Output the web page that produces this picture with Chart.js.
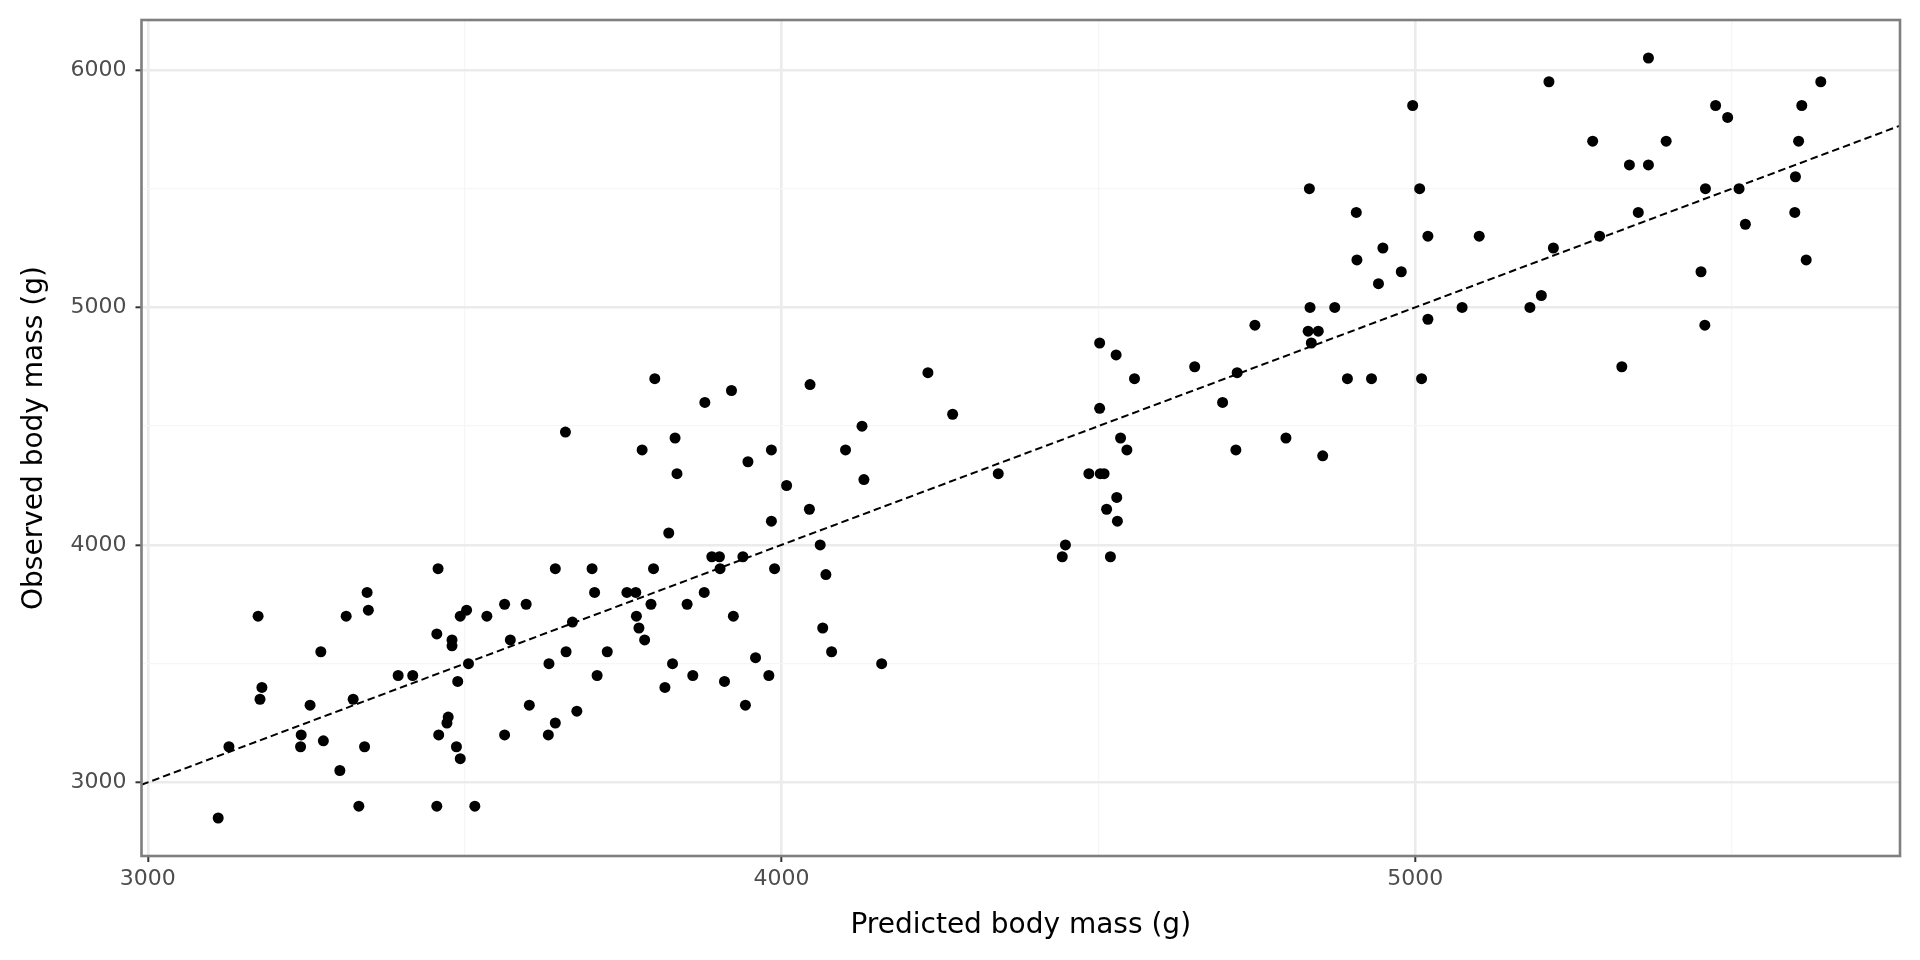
<!DOCTYPE html>
<html>
<head>
<meta charset="utf-8">
<title>Predicted vs observed body mass</title>
<script src="https://cdn.jsdelivr.net/npm/chart.js@4.4.1/dist/chart.umd.min.js"></script>
<style>
  html, body { margin: 0; padding: 0; background: #ffffff; }
  #wrap { width: 1920px; height: 960px; position: relative; }
</style>
</head>
<body>
<div id="wrap"><canvas id="massChart"></canvas></div>
<script>
// Predicted body mass (g) for each penguin
const predicted = [
    3458, 3346, 3348, 3174, 3313, 3493, 3503, 3456, 3480, 3480, 3273, 3506, 3395, 3418, 3489, 3180, 3177,
    3256, 3324, 3474, 3472, 3242, 3459, 3277, 3128, 3241, 3342, 3487, 3493, 3303, 3333, 3456, 3516, 3111,
    3535, 3563, 3597, 3643, 3701, 3798, 3705, 3756, 3770, 3794, 3771, 3775, 3784, 3670, 3572, 3633, 3660,
    3725, 3709, 3602, 3677, 3643, 3563, 3632, 3890, 3902, 3903, 3939, 3989, 3878, 3851, 3924, 3959, 3828,
    3860, 3816, 3910, 3980, 3943,
    3659, 3800, 3879, 3921, 4045, 3832, 3780, 3835, 3984, 3947, 4008, 3984, 4044, 3822, 4061, 4127, 4101, 4130,
    4231, 4270, 4342, 4448, 4443, 4070, 4065, 4079, 4158,
    4502, 4528, 4557, 4502, 4535, 4545, 4485, 4503, 4509, 4529, 4513, 4530, 4519, 4652, 4719, 4696, 4747,
    4717, 4796, 4854, 4834, 4873, 4831, 4847, 4836, 4893, 4931,
    5211, 4996, 5280, 5338, 4833, 5007, 4907, 5020, 5101, 5291, 4949, 5218, 4908, 4978, 4942, 5074, 5181,
    5199, 5020, 5326, 5010,
    5368, 5640, 5474, 5610, 5493, 5396, 5605, 5368, 5600, 5458, 5511, 5352, 5599, 5521, 5617, 5451, 5457
];

// Observed body mass (g), same order
const observed = [
    3900, 3800, 3725, 3700, 3700, 3700, 3725, 3625, 3600, 3575, 3550, 3500, 3450, 3450, 3425, 3400, 3350,
    3325, 3350, 3275, 3250, 3200, 3200, 3175, 3150, 3150, 3150, 3150, 3100, 3050, 2900, 2900, 2900, 2850,
    3700, 3750, 3750, 3900, 3900, 3900, 3800, 3800, 3800, 3750, 3700, 3650, 3600, 3675, 3600, 3500, 3550,
    3550, 3450, 3325, 3300, 3250, 3200, 3200, 3950, 3950, 3900, 3950, 3900, 3800, 3750, 3700, 3525, 3500,
    3450, 3400, 3425, 3450, 3325,
    4475, 4700, 4600, 4650, 4675, 4450, 4400, 4300, 4400, 4350, 4250, 4100, 4150, 4050, 4000, 4500, 4400, 4275,
    4725, 4550, 4300, 4000, 3950, 3875, 3650, 3550, 3500,
    4850, 4800, 4700, 4575, 4450, 4400, 4300, 4300, 4300, 4200, 4150, 4100, 3950, 4750, 4725, 4600, 4925,
    4400, 4450, 4375, 5000, 5000, 4900, 4900, 4850, 4700, 4700,
    5950, 5850, 5700, 5600, 5500, 5500, 5400, 5300, 5300, 5300, 5250, 5250, 5200, 5150, 5100, 5000, 5000,
    5050, 4950, 4750, 4700,
    6050, 5950, 5850, 5850, 5800, 5700, 5700, 5600, 5550, 5500, 5500, 5400, 5400, 5350, 5200, 5150, 4925
];

// axis limits and tick positions
const xLimits = [2990, 5765];
const yLimits = [2690, 6210];
const xMajorTicks = [3000, 4000, 5000];
const xMinorTicks = [3500, 4500, 5500];
const yMajorTicks = [3000, 4000, 5000, 6000];
const yMinorTicks = [3500, 4500, 5500];

const points = predicted.map((p, i) => ({ x: p, y: observed[i] }));
// y = x reference line across the whole panel
const identityLine = xLimits.map(v => ({ x: v, y: v }));

const FONT = "'DejaVu Sans', 'Noto Sans', sans-serif";

function setTicks(major, minor) {
    return function (scale) {
        scale.ticks = major.concat(minor).sort((a, b) => a - b).map(v => ({ value: v }));
    };
}

const panelBorder = {
    id: 'panelBorder',
    afterDraw(chart) {
        const { ctx, chartArea } = chart;
        ctx.save();
        ctx.strokeStyle = '#7f7f7f';
        ctx.lineWidth = 2.6;
        ctx.strokeRect(chartArea.left, chartArea.top,
            chartArea.right - chartArea.left, chartArea.bottom - chartArea.top);
        ctx.restore();
    }
};

function gridFor(major) {
    return {
        color: c => major.includes(c.tick && c.tick.value) ? '#ebebeb' : '#f6f6f6',
        lineWidth: c => major.includes(c.tick && c.tick.value) ? 2.6 : 1.3,
        tickColor: c => major.includes(c.tick && c.tick.value) ? '#333333' : 'rgba(0,0,0,0)',
        tickWidth: 2,
        tickLength: 6,
        drawTicks: true
    };
}

const config = {
    type: 'scatter',
    data: {
        datasets: [
            {
                label: 'Penguins',
                data: points,
                backgroundColor: '#000000',
                borderWidth: 0,
                pointRadius: 5.5,
                pointHoverRadius: 5.5
            },
            {
                type: 'line',
                label: 'y = x',
                data: identityLine,
                borderColor: '#000000',
                borderWidth: 2,
                borderDash: [7.5, 4],
                borderCapStyle: 'butt',
                pointRadius: 0,
                fill: false
            }
        ]
    },
    options: {
        responsive: true,
        maintainAspectRatio: false,
        animation: false,
        layout: { padding: { left: 0, right: 20, top: 20, bottom: 0 } },
        plugins: {
            legend: { display: false },
            tooltip: { enabled: false }
        },
        scales: {
            x: {
                type: 'linear',
                min: xLimits[0],
                max: xLimits[1],
                afterBuildTicks: setTicks(xMajorTicks, xMinorTicks),
                afterFit: s => { s.height = 104; s.paddingLeft = 0; s.paddingRight = 0; },
                border: { display: false },
                grid: gridFor(xMajorTicks),
                ticks: {
                    autoSkip: false,
                    maxRotation: 0,
                    padding: 4,
                    color: '#4d4d4d',
                    font: { family: FONT, size: 22 },
                    callback: v => xMajorTicks.includes(v) ? String(v) : ''
                },
                title: {
                    display: true,
                    text: 'Predicted body mass (g)',
                    color: '#000000',
                    font: { family: FONT, size: 28 },
                    padding: { top: 0, bottom: 17.5 }
                }
            },
            y: {
                type: 'linear',
                min: yLimits[0],
                max: yLimits[1],
                afterBuildTicks: setTicks(yMajorTicks, yMinorTicks),
                afterFit: s => { s.width = 141.5; s.paddingTop = 0; s.paddingBottom = 0; },
                border: { display: false },
                grid: gridFor(yMajorTicks),
                ticks: {
                    autoSkip: false,
                    padding: 9,
                    color: '#4d4d4d',
                    font: { family: FONT, size: 22 },
                    callback: v => yMajorTicks.includes(v) ? String(v) : ''
                },
                title: {
                    display: true,
                    text: 'Observed body mass (g)',
                    color: '#000000',
                    font: { family: FONT, size: 28 },
                    padding: { top: 17.5, bottom: 0 }
                }
            }
        }
    },
    plugins: [panelBorder]
};

const massChart = new Chart(document.getElementById('massChart').getContext('2d'), config);
</script>
</body>
</html>
